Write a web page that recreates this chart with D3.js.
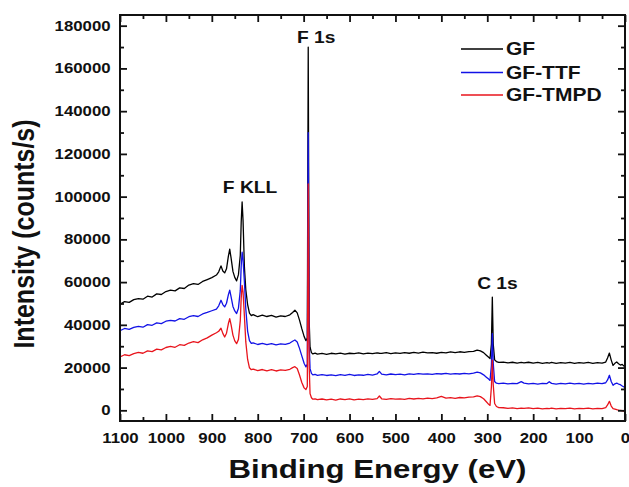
<!DOCTYPE html>
<html>
<head>
<meta charset="utf-8">
<script src="https://cdn.jsdelivr.net/npm/d3@7"></script>
<style>
  html, body { margin: 0; padding: 0; background: #fff; }
  svg { display: block; }
  text { font-family: "Liberation Sans", Arial, Helvetica, sans-serif; font-weight: bold; fill: #111; }
</style>
</head>
<body>
<svg id="chart" width="629" height="487"></svg>
<script>
// XPS survey spectra: binding energy (eV) and intensity (counts/s) for three samples
const energy = [
  1100,1090,1080,1070,1060,1050,1040,1030,1020,1010,1000,990,980,970,960,950,940,930,920,910,900,
  890,885,880,876,872,868,864,861,858,854,850,846,842,838,836,834,832,829,826,822,818,814,810,
  800,790,780,770,760,750,740,730,724,719,714,709,704,699,695,692,690,688,686,683,680,675,670,
  660,650,640,630,620,610,600,590,580,570,560,550,540,535,530,
  520,510,500,490,480,470,460,450,440,430,420,410,400,390,380,370,360,350,340,330,
  322,315,308,302,297,294,291,289,287,284,280,275,
  265,255,245,235,226,220,210,200,190,180,170,165,160,150,140,130,120,110,100,90,80,70,60,50,42,
  38,34,30,26,22,18,14,10,6,3,0
];

const gf = [
  49600,50900,50500,51800,52300,52000,53400,53000,54500,54200,55600,56200,55900,57300,57000,58600,59300,58900,60300,61200,62100,
  63300,64800,67600,65200,64300,66200,72000,75400,71200,65000,62200,60600,63500,72500,88000,97500,89000,67000,56500,49500,45500,44300,44800,
  43800,44500,43900,44400,43600,44200,43900,44700,45800,46900,45600,42200,38200,34600,32600,33800,170000,42000,29500,27000,26400,26800,26300,
  26600,26200,26700,26400,26800,26300,26700,26500,26900,26400,26800,26500,26900,26700,26600,
  27000,26500,26900,26600,27000,26700,27100,26800,27200,26900,27000,26700,27100,26900,27300,27000,27400,27100,27500,27600,
  28200,27800,27000,25800,24800,24200,31000,53000,31000,23600,22800,22400,
  22600,22200,22500,22100,22400,22200,22500,22100,22400,22000,22300,22100,22400,22000,22300,22100,22400,22000,22300,22100,22400,22000,22300,22100,22600,
  24500,26800,23500,21000,22000,22600,21800,21200,21500,20800,20500
];

const gfTtf = [
  37300,38300,37900,38800,39300,38900,40100,39800,40900,40600,41700,42100,41800,42900,42600,43800,44300,43900,45100,45800,46600,
  47400,48900,51500,49500,48400,50100,54000,56200,53100,48600,46500,45300,47800,56000,67500,74000,70500,60000,47500,37000,32600,31300,31600,
  30800,31300,30700,31200,30600,31100,30900,31500,32300,32900,32000,29000,25500,22000,20300,21600,130000,32000,19500,17300,16600,16800,16400,
  16700,16300,16600,16200,16700,16400,16800,16300,16600,16400,16800,16500,17000,18200,16900,
  16600,17000,16700,16900,16600,17100,16800,17200,16900,17100,16800,17200,17000,17300,16900,17200,17000,17300,17100,17400,
  17900,17500,16600,15500,14600,14000,21000,35900,22000,13500,12700,12500,
  12700,12400,12600,12500,13400,12700,12400,12600,12300,12600,12500,13400,12600,12300,12600,12400,12700,12400,12600,12300,12600,12400,12700,12500,12900,
  14200,16400,13500,11700,12400,12700,12300,12000,11400,11000,10600
];

const gfTmpd = [
  25000,26000,25600,26500,27100,26700,27800,27500,28600,28300,29400,29900,29500,30700,30400,31500,32100,31700,33000,33900,35200,
  36300,37000,38400,36000,34300,36100,40500,42900,40000,35200,32500,31200,33200,42000,52500,58500,55500,44000,32000,23800,19900,19000,19300,
  18600,19100,18500,19000,18400,18900,18700,19200,20000,20400,19600,16500,13000,10500,9700,11200,106000,21000,7800,5900,5200,5400,5000,
  5300,4900,5200,4800,5300,5000,5400,4900,5200,5000,5400,5100,5500,6700,5400,
  5100,5500,5200,5400,5100,5600,5300,5600,5400,5700,5500,5800,6500,5700,5900,5600,6000,5800,6200,6300,
  6800,6400,5400,4000,2800,2300,11000,23500,12000,3200,1800,1300,
  1200,900,1100,800,1000,900,1100,800,1000,700,900,800,1000,700,900,800,1000,700,900,800,1000,700,900,800,1300,
  2500,4200,2000,800,600,300,100,0,-200,-400,200
];

const seriesNames = ["GF", "GF-TTF", "GF-TMPD"];
const xTickValues = [1100,1000,900,800,700,600,500,400,300,200,100,0];
const xMinorValues = [1050,950,850,750,650,550,450,350,250,150,50];
const yTickValues = [0,20000,40000,60000,80000,100000,120000,140000,160000,180000];
const yMinorValues = [10000,30000,50000,70000,90000,110000,130000,150000,170000];

// Peak annotations: label text and the (energy, intensity) point where its baseline starts
const peakLabels = ["F 1s", "F KLL", "C 1s"];
const peakLabelEnergy = [714.5, 876, 322];
const peakLabelIntensity = [171800, 101900, 56800];

// ---- drawing ----
const svg = d3.select("#chart");
const plot = { left: 120, right: 625, top: 15, bottom: 421 };
const STRETCH = 1.2;           // wide lettering
const colors = ["#000000", "#1212e6", "#e8141c"];

const x = d3.scaleLinear().domain([1100, 0]).range([plot.left, plot.right]);
const y = d3.scaleLinear().domain([-5000, 185000]).range([plot.bottom, plot.top]);

svg.append("rect").attr("width", 629).attr("height", 487).attr("fill", "#fff");

svg.append("clipPath").attr("id", "plot-clip")
  .append("rect")
  .attr("x", plot.left).attr("y", plot.top)
  .attr("width", plot.right - plot.left).attr("height", plot.bottom - plot.top);

const series = [gf, gfTtf, gfTmpd].map((values, i) => ({ name: seriesNames[i], values, color: colors[i] }));

const line = d3.line()
  .x((d, i) => x(energy[i]))
  .y(d => y(d));

svg.append("g").attr("clip-path", "url(#plot-clip)")
  .selectAll("path")
  .data(series)
  .join("path")
  .attr("d", d => line(d.values))
  .attr("fill", "none")
  .attr("stroke", d => d.color)
  .attr("stroke-width", 1.3)
  .attr("stroke-linejoin", "round");

// Axes: inward ticks on all four sides, labels on bottom and left only
function styleAxis(g, withText) {
  g.select(".domain").remove();
  g.selectAll(".tick line").attr("stroke", "#111").attr("stroke-width", 1.8);
  if (withText) {
    g.attr("font-family", null).attr("font-size", 14);
    g.selectAll(".tick text").attr("transform", `scale(${STRETCH},1)`).attr("fill", "#111");
  }
}

const fmt = d3.format("d");

svg.append("g").attr("transform", `translate(0,${plot.bottom})`)
  .call(d3.axisBottom(x).tickValues(xTickValues).tickFormat(fmt).tickSizeInner(-7).tickSizeOuter(0).tickPadding(12))
  .call(g => styleAxis(g, true));
svg.append("g").attr("transform", `translate(0,${plot.bottom})`)
  .call(d3.axisBottom(x).tickValues(xMinorValues).tickFormat("").tickSizeInner(-4).tickSizeOuter(0))
  .call(g => styleAxis(g, false));
svg.append("g").attr("transform", `translate(0,${plot.top})`)
  .call(d3.axisTop(x).tickValues(xTickValues).tickFormat("").tickSizeInner(-7).tickSizeOuter(0))
  .call(g => styleAxis(g, false));
svg.append("g").attr("transform", `translate(0,${plot.top})`)
  .call(d3.axisTop(x).tickValues(xMinorValues).tickFormat("").tickSizeInner(-4).tickSizeOuter(0))
  .call(g => styleAxis(g, false));

svg.append("g").attr("transform", `translate(${plot.left},0)`)
  .call(d3.axisLeft(y).tickValues(yTickValues).tickFormat(fmt).tickSizeInner(-7).tickSizeOuter(0).tickPadding(7.8))
  .call(g => styleAxis(g, true));
svg.append("g").attr("transform", `translate(${plot.left},0)`)
  .call(d3.axisLeft(y).tickValues(yMinorValues).tickFormat("").tickSizeInner(-4).tickSizeOuter(0))
  .call(g => styleAxis(g, false));
svg.append("g").attr("transform", `translate(${plot.right},0)`)
  .call(d3.axisRight(y).tickValues(yTickValues).tickFormat("").tickSizeInner(-7).tickSizeOuter(0))
  .call(g => styleAxis(g, false));
svg.append("g").attr("transform", `translate(${plot.right},0)`)
  .call(d3.axisRight(y).tickValues(yMinorValues).tickFormat("").tickSizeInner(-4).tickSizeOuter(0))
  .call(g => styleAxis(g, false));

// Frame
svg.append("rect")
  .attr("x", plot.left).attr("y", plot.top)
  .attr("width", plot.right - plot.left).attr("height", plot.bottom - plot.top)
  .attr("fill", "none").attr("stroke", "#111").attr("stroke-width", 2);

// Wide text helper
function wideText(px, py, str, size, anchor, rotate) {
  const g = svg.append("g")
    .attr("transform", `translate(${px},${py}) scale(${STRETCH},1)` + (rotate ? ` rotate(${rotate})` : ""));
  return g.append("text")
    .attr("font-size", size)
    .attr("text-anchor", anchor)
    .text(str);
}

// Peak labels
peakLabels.forEach((t, i) => {
  wideText(x(peakLabelEnergy[i]), y(peakLabelIntensity[i]), t, 16, "start");
});

// Axis titles
wideText((plot.left + plot.right) / 2 + 5, 477.5, "Binding Energy (eV)", 26, "middle");
wideText(33.5, 234, "Intensity (counts/s)", 25, "middle", -90);

// Legend
const legendRows = [49, 72.5, 95];
series.forEach((s, i) => {
  svg.append("line")
    .attr("x1", 461).attr("x2", 503)
    .attr("y1", legendRows[i]).attr("y2", legendRows[i])
    .attr("stroke", s.color).attr("stroke-width", 1.4);
  wideText(506, legendRows[i], s.name, 17.5, "start").attr("dy", "0.36em");
});
</script>
</body>
</html>
